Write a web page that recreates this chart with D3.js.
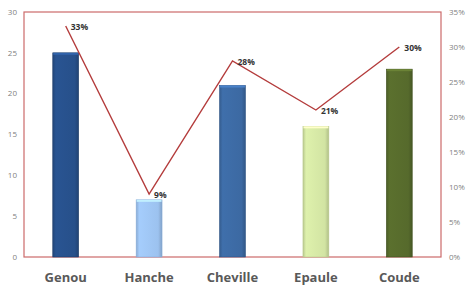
<!DOCTYPE html>
<html><head><meta charset="utf-8">
<script src="https://cdn.jsdelivr.net/npm/d3@7"></script>
<style>body{margin:0;background:#fff;}svg{display:block;}</style>
</head><body>
<script>
const categories = ["Genou","Hanche","Cheville","Epaule","Coude"];
const counts = [25, 7, 21, 16, 23];
const percents = [33, 9, 28, 21, 30];
const leftTicks = [0,5,10,15,20,25,30];
const rightTicks = [0,5,10,15,20,25,30,35];
const barColors = ["#27508a","#9cc2ef","#3c69a2","#d2e4a3","#566a2c"];
const barEdges = ["#1b3a66","#86acd9","#2c5284","#b7c98a","#3f4f1e"];

const W = 472, H = 293;
const m = {left:24, right:31, top:12, bottom:36};
const svg = d3.select("body").append("svg").attr("width",W).attr("height",H);
const x = d3.scaleBand().domain(categories).range([m.left, W-m.right]).paddingInner(0.69).paddingOuter(0.345);
const yL = d3.scaleLinear().domain([0,30]).range([H-m.bottom, m.top]);
const yR = d3.scaleLinear().domain([0,35]).range([H-m.bottom, m.top]);

const defs = svg.append("defs");
barColors.forEach((c,i)=>{
  const g = defs.append("linearGradient").attr("id","g"+i).attr("x1","0").attr("x2","1").attr("y1","0").attr("y2","0");
  const base = d3.color(c);
  g.append("stop").attr("offset","0").attr("stop-color", base.darker(0.35));
  g.append("stop").attr("offset","0.12").attr("stop-color", base.brighter(0.15));
  g.append("stop").attr("offset","0.85").attr("stop-color", c);
  g.append("stop").attr("offset","1").attr("stop-color", base.darker(0.5));
});

// frame
svg.append("rect").attr("x",m.left).attr("y",m.top)
  .attr("width",W-m.right-m.left).attr("height",H-m.bottom-m.top)
  .attr("fill","none").attr("stroke","#cc6a6a").attr("stroke-width",1.2);

// bars
svg.selectAll("rect.bar").data(categories).join("rect").attr("class","bar")
  .attr("x",d=>x(d)).attr("width",x.bandwidth())
  .attr("y",(d,i)=>yL(counts[i])).attr("height",(d,i)=>yL(0)-yL(counts[i]))
  .attr("fill",(d,i)=>"url(#g"+i+")").attr("stroke",(d,i)=>barEdges[i]).attr("stroke-width",0.6);
svg.selectAll("rect.cap").data(categories).join("rect").attr("class","cap")
  .attr("x",d=>x(d)+0.5).attr("width",x.bandwidth()-1)
  .attr("y",(d,i)=>yL(counts[i])).attr("height",2)
  .attr("fill",(d,i)=>d3.color(barColors[i]).brighter(0.6));

// left axis labels
svg.append("g").selectAll("text").data(leftTicks).join("text")
  .attr("x",17).attr("y",d=>yL(d)).attr("dy","0.35em").attr("text-anchor","end")
  .attr("font-family","Open Sans, sans-serif").attr("font-size",8).attr("fill","#7f7f7f").text(d=>d);
// right axis labels
svg.append("g").selectAll("text").data(rightTicks).join("text")
  .attr("x",449).attr("y",d=>yR(d)).attr("dy","0.35em").attr("text-anchor","start")
  .attr("font-family","Open Sans, sans-serif").attr("font-size",8).attr("fill","#7f7f7f").text(d=>d+"%");

// category labels
svg.append("g").selectAll("text").data(categories).join("text")
  .attr("x",d=>x(d)+x.bandwidth()/2).attr("y",277).attr("dy","0.35em").attr("text-anchor","middle")
  .attr("font-family","Open Sans, sans-serif").attr("font-weight","bold").attr("font-size",13)
  .attr("fill","#595959").text(d=>d);

// line
const line = d3.line().x((d,i)=>x(categories[i])+x.bandwidth()/2).y(d=>yR(d));
svg.append("path").datum(percents).attr("d",line).attr("fill","none")
  .attr("stroke","#b43c3c").attr("stroke-width",1.4);
svg.append("g").selectAll("text").data(percents).join("text")
  .attr("x",(d,i)=>x(categories[i])+x.bandwidth()/2+5).attr("y",d=>yR(d)+1).attr("dy","0.35em")
  .attr("font-family","Open Sans, sans-serif").attr("font-weight","bold").attr("font-size",8.5)
  .attr("fill","#333333").text(d=>d+"%");
</script>
</body></html>
